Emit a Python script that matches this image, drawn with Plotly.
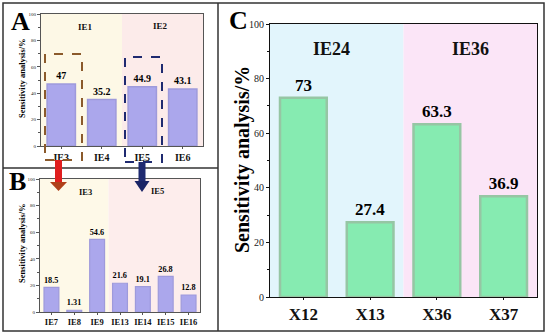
import plotly.graph_objects as go

W, H = 550, 336
def px(x): return x / W
def py(y): return 1 - y / H

# ---- data ----
a_cats = ["IE3", "IE4", "IE5", "IE6"]
a_vals = [47, 35.2, 44.9, 43.1]
b_cats = ["IE7", "IE8", "IE9", "IE13", "IE14", "IE15", "IE16"]
b_vals = [18.5, 1.31, 54.6, 21.6, 19.1, 26.8, 12.8]
c_cats = ["X12", "X13", "X36", "X37"]
c_vals = [73, 27.4, 63.3, 36.9]
y_ticks = [0, 20, 40, 60, 80, 100]

SERIF = "Liberation Serif"
LAV = "#ABA7EC"
LAV_EDGE = "#9E9ADB"
GRN = "#86EBB1"
GRN_EDGE = "#96C6A4"

fig = go.Figure()

fig.add_trace(go.Bar(x=a_cats, y=a_vals, xaxis="x", yaxis="y", width=0.7,
                     marker=dict(color=LAV, line=dict(color=LAV_EDGE, width=1.5)),
                     text=[str(v) for v in a_vals], textposition="outside",
                     textfont=dict(family=SERIF, size=10, color="black", weight="bold"),
                     cliponaxis=False, showlegend=False))
fig.add_trace(go.Bar(x=b_cats, y=b_vals, xaxis="x2", yaxis="y2", width=0.65,
                     marker=dict(color=LAV, line=dict(color=LAV_EDGE, width=1.2)),
                     text=[str(v) for v in b_vals], textposition="outside",
                     textfont=dict(family=SERIF, size=9, color="black", weight="bold"),
                     cliponaxis=False, showlegend=False))
fig.add_trace(go.Bar(x=c_cats, y=c_vals, xaxis="x3", yaxis="y3", width=0.7,
                     marker=dict(color=GRN, line=dict(color=GRN_EDGE, width=2.5)),
                     text=[str(v) for v in c_vals], textposition="outside",
                     textfont=dict(family=SERIF, size=17, color="black", weight="bold"),
                     cliponaxis=False, showlegend=False))

def yax(domain, tsize, anchor, lc="#555"):
    return dict(domain=domain, range=[0, 100], tickvals=y_ticks, ticks="outside",
                ticklen=3, tickwidth=1, tickcolor=lc, showline=True, linecolor=lc,
                linewidth=1, mirror=True, showgrid=False, zeroline=False,
                tickfont=dict(family=SERIF, size=tsize, color="#222"),
                minor=dict(ticks="outside", ticklen=2, dtick=10, tickcolor=lc),
                anchor=anchor, fixedrange=True, automargin=False)

def xax(domain, n, tsize, anchor, lc="#555"):
    return dict(domain=domain, range=[-0.5, n - 0.5], ticks="outside", ticklen=2,
                tickcolor=lc, showline=True, linecolor=lc, linewidth=1, mirror=True,
                showgrid=False, tickfont=dict(family=SERIF, size=tsize, color="#111", weight="bold"),
                anchor=anchor, fixedrange=True, automargin=False)

fig.update_layout(
    width=W, height=H, margin=dict(l=0, r=0, t=0, b=0, autoexpand=False),
    paper_bgcolor="white", plot_bgcolor="rgba(0,0,0,0)", bargap=0.3,
    xaxis=xax([px(41), px(203)], 4, 10, "y"),
    yaxis=yax([py(146), py(14)], 5, "x"),
    xaxis2=xax([px(40), px(200)], 7, 8.5, "y2"),
    yaxis2=yax([py(312), py(179)], 5, "x2"),
    xaxis3=xax([px(270), px(537)], 4, 17, "y3", lc="#111"),
    yaxis3=yax([py(297), py(24)], 10, "x3", lc="#111"),
)

shapes = []
# background shading
def bg(xref, yref, x0, x1, color):
    shapes.append(dict(type="rect", xref=xref, yref=yref + " domain", x0=x0, x1=x1, y0=0, y1=1,
                       fillcolor=color, line=dict(width=0), layer="below"))
bg("x", "y", -0.5, 1.5, "#FDF8E6")
bg("x", "y", 1.5, 3.5, "#FCEBEA")
bg("x2", "y2", -0.5, 2.5, "#FEF9E8")
bg("x2", "y2", 2.5, 6.5, "#FDEDEC")
bg("x3", "y3", -0.5, 1.5, "#E2F5FC")
bg("x3", "y3", 1.5, 3.5, "#FBE5F7")

# outer border and dividers
shapes.append(dict(type="rect", xref="paper", yref="paper", x0=px(3), x1=px(544), y0=py(331), y1=py(3),
                   line=dict(color="#333", width=1.5)))
shapes.append(dict(type="line", xref="paper", yref="paper", x0=px(218), x1=px(218), y0=py(331), y1=py(3),
                   line=dict(color="#333", width=1.5)))
shapes.append(dict(type="line", xref="paper", yref="paper", x0=px(3), x1=px(218), y0=py(168), y1=py(168),
                   line=dict(color="#333", width=1.5)))

# dashed highlight boxes
shapes.append(dict(type="rect", xref="paper", yref="paper", x0=px(45), x1=px(82), y0=py(160), y1=py(54),
                   line=dict(color="#8B5A2B", width=2, dash="dash")))
shapes.append(dict(type="rect", xref="paper", yref="paper", x0=px(125), x1=px(162), y0=py(162), y1=py(57),
                   line=dict(color="#1F2A70", width=2, dash="dash")))

# arrows
def arrow(cx, y0, yh, ytip, sw, hw, shaft_col, head_col):
    shapes.append(dict(type="path", xref="paper", yref="paper",
                       path=f"M {px(cx-sw/2)} {py(y0)} L {px(cx+sw/2)} {py(y0)} L {px(cx+sw/2)} {py(yh)} "
                            f"L {px(cx-sw/2)} {py(yh)} Z",
                       fillcolor=shaft_col, line=dict(width=0)))
    shapes.append(dict(type="path", xref="paper", yref="paper",
                       path=f"M {px(cx-hw/2)} {py(yh-1)} L {px(cx+hw/2)} {py(yh-1)} L {px(cx)} {py(ytip)} Z",
                       fillcolor=head_col, line=dict(width=0)))
arrow(58.5, 160, 183, 191, 7, 17, "#E01E1E", "#B0401A")
arrow(142, 162, 182, 192, 7, 15, "#1F2A70", "#1A2466")

fig.update_layout(shapes=shapes)

anns = []
def lab(text, x, y, size, angle=0):
    anns.append(dict(text=text, x=px(x), y=py(y), xref="paper", yref="paper", showarrow=False,
                     xanchor="center", yanchor="middle", textangle=angle,
                     font=dict(family=SERIF, size=size, color="black", weight="bold")))
lab("A", 20, 21, 26)
lab("B", 17, 181, 26)
lab("C", 238, 20, 26)
# y-axis titles
lab("Sensitivity analysis/%", 22, 78, 8.5, -90)
lab("Sensitivity analysis/%", 22, 243, 8.5, -90)
lab("Sensitivity analysis/%", 242, 160, 20, -90)

def grp(text, x, y, xr, yr, size):
    anns.append(dict(text=text, x=x, y=y, xref=xr, yref=yr, showarrow=False,
                     xanchor="center", yanchor="middle",
                     font=dict(family=SERIF, size=size, color="#111", weight="bold")))
grp("IE1", 0.61, 90, "x", "y", 9)
grp("IE2", 2.44, 91, "x", "y", 9)
grp("IE3", 1.47, 90, "x2", "y2", 8.5)
grp("IE5", 4.66, 91, "x2", "y2", 8.5)
grp("IE24", 0.42, 91, "x3", "y3", 18)
grp("IE36", 2.5, 91, "x3", "y3", 18)
fig.update_layout(annotations=anns)

fig.write_html("out.html", config={"displayModeBar": False},
               post_script="document.body.style.margin='0';document.body.style.overflow='hidden';")
